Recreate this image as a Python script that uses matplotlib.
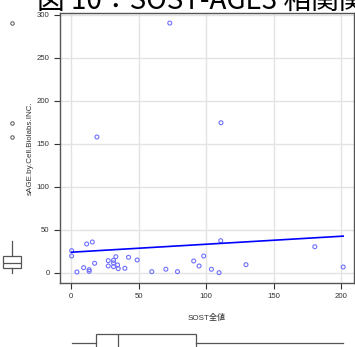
import numpy as np
import matplotlib.pyplot as plt

# values
sost = [0.5, 0.5, 11.6, 15.8, 4.4, 9.4, 13.5, 13.5, 17.5, 27.6, 27.6, 31.5,
        31.5, 31.5, 33.2, 34.5, 35.0, 39.9, 42.6, 49.0, 59.8, 70.2, 78.8,
        90.8, 94.8, 98.2, 103.9, 109.6, 110.8, 129.5, 180.4, 201.4, 73.1,
        19.2, 111.0]
sage = [25.6, 19.4, 33.4, 35.7, 0.8, 5.8, 3.5, 1.6, 10.9, 14.0, 7.8, 14.4,
        11.3, 7.0, 18.6, 9.0, 4.7, 5.1, 17.9, 14.8, 1.2, 4.0, 1.2,
        13.6, 7.8, 19.4, 4.0, 0.0, 37.2, 9.3, 30.2, 6.6, 290.3,
        157.8, 174.4]
xticks = [0, 50, 100, 150, 200]
yticks = [0, 50, 100, 150, 200, 250, 300]
title = '図 10：SOST-AGE3 相関関係'
xlab = 'SOST全値'
ylab = 'sAGE.by.Cell.Biolabs.INC.'

fonts = ['Liberation Sans', 'Noto Sans CJK JP']
plt.rcParams['font.family'] = fonts

W, H = 355, 347
fig = plt.figure(figsize=(W / 100, H / 100), dpi=100)
xlim = (-8.1, 209.4)
ylim = (-12, 302)
gray = '#555555'

# main scatter
ax = fig.add_axes([60 / W, 64 / H, 294 / W, 270 / H])
ax.set_xlim(xlim)
ax.set_ylim(ylim)
ax.grid(True, color='#e3e3e3', lw=1)
ax.set_axisbelow(True)
ax.scatter(sost, sage, s=8, facecolors='none', edgecolors='#7070ff', linewidths=0.8, zorder=3)
slope, icpt = np.polyfit(sost, sage, 1)
xs = np.array([min(sost), max(sost)])
ax.plot(xs, icpt + slope * xs, color='#0000ff', lw=1.2, zorder=4)
ax.set_xticks(xticks)
ax.set_yticks(yticks)
ax.tick_params(labelsize=5.6, colors='#333333', length=4, width=0.8)
for s in ax.spines.values():
    s.set_color(gray)
    s.set_linewidth(1)
ax.set_xlabel(xlab, fontsize=5.8, color='#333333', labelpad=10)
ax.set_ylabel(ylab, fontsize=5.8, color='#333333', labelpad=2)

# left boxplot of sAGE
axl = fig.add_axes([0, 64 / H, 24 / W, 270 / H])
axl.boxplot(sage, positions=[0.5], widths=0.72, showcaps=False,
            patch_artist=True,
            boxprops=dict(facecolor='white', edgecolor=gray, lw=0.9),
            medianprops=dict(color=gray, lw=0.9),
            whiskerprops=dict(color=gray, lw=0.9),
            flierprops=dict(marker='o', markersize=2.5, markerfacecolor='none',
                            markeredgecolor=gray, markeredgewidth=0.7))
axl.set_xlim(0, 1)
axl.set_ylim(ylim)
axl.axis('off')

# bottom boxplot of SOST
axb = fig.add_axes([60 / W, -8 / H, 294 / W, 25 / H])
axb.boxplot(sost, positions=[0.5], widths=0.72, orientation='horizontal',
            showcaps=False, patch_artist=True,
            boxprops=dict(facecolor='white', edgecolor=gray, lw=0.9),
            medianprops=dict(color=gray, lw=0.9),
            whiskerprops=dict(color=gray, lw=0.9),
            flierprops=dict(marker='o', markersize=2.5, markerfacecolor='none',
                            markeredgecolor=gray, markeredgewidth=0.7))
axb.set_xlim(xlim)
axb.set_ylim(0, 1)
axb.axis('off')

# cut-off title
fig.text(37 / W, (H - 9) / H, title, fontsize=20, color='black',
         va='baseline', ha='left', family=['Noto Sans CJK JP', 'DejaVu Sans'])

fig.savefig('out.png', dpi=100)
